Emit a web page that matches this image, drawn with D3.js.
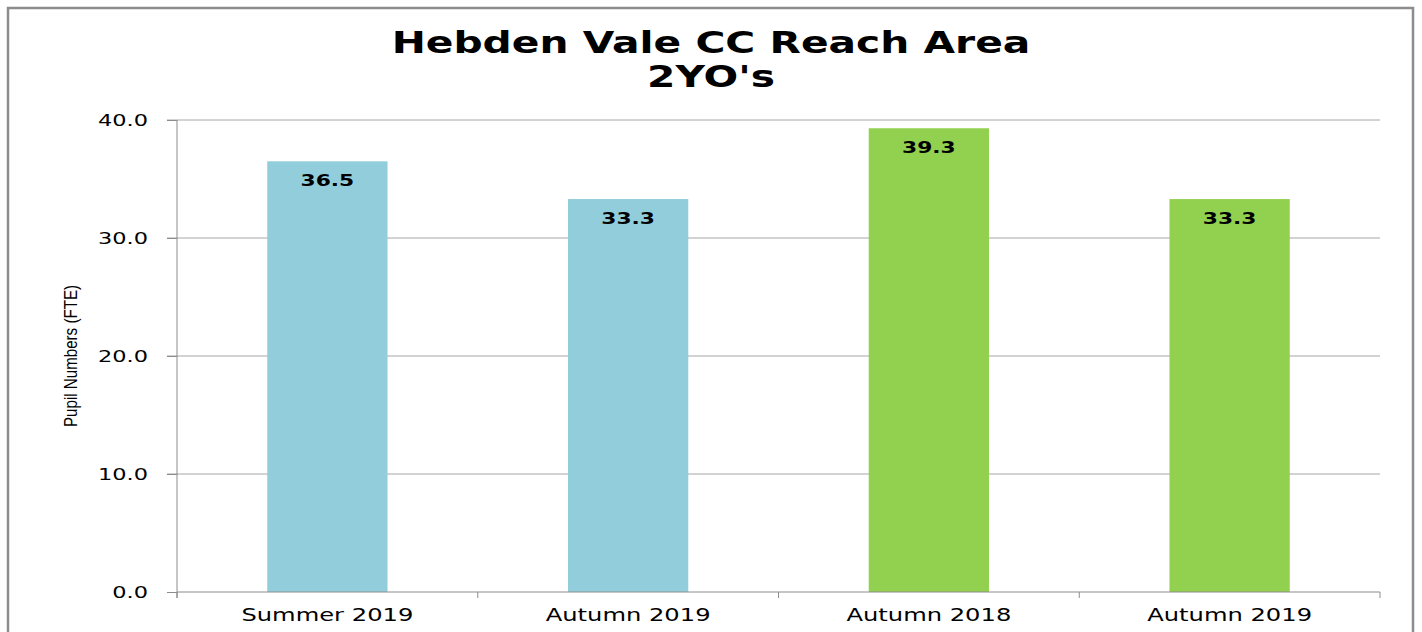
<!DOCTYPE html>
<html>
<head>
<meta charset="utf-8" />
<title>Hebden Vale CC Reach Area</title>
<style>
    body { margin: 0; background: #fff; }
    text { font-family: "DejaVu Sans", Verdana, sans-serif; fill: #000; }
</style>
</head>
<body>
<div id="container"></div>
<script src="https://cdn.jsdelivr.net/npm/d3@7/dist/d3.min.js"></script>
<script>
    const categories = ['Summer 2019', 'Autumn 2019', 'Autumn 2018', 'Autumn 2019']
    const values = [36.5, 33.3, 39.3, 33.3]
    const barColors = ['#92CDDC', '#92CDDC', '#92D050', '#92D050']
    const yTicks = [0, 10, 20, 30, 40]
    const titleLines = ['Hebden Vale CC Reach Area', "2YO's"]
    const yTitle = 'Pupil Numbers (FTE)'

    const W = 1422, H = 632
    const SX = 1.36 // the picture's text is stretched sideways
    const plot = { left: 177, right: 1380, top: 120, bottom: 592 }

    const svg = d3.select('#container').append('svg').attr('width', W).attr('height', H)

    // outer frame
    svg.append('rect').attr('x', 8).attr('y', 8).attr('width', 1405).attr('height', 640)
        .attr('fill', 'none').attr('stroke', '#8c8c8c').attr('stroke-width', 2.5)

    const x = d3.scaleBand().domain(d3.range(categories.length)).range([plot.left, plot.right])
        .paddingInner(0.6).paddingOuter(0.3)
    const y = d3.scaleLinear().domain([0, 40]).range([plot.bottom, plot.top])

    // stretch a text node sideways around its anchor point
    function stretch(sel) {
        sel.each(function () {
            const t = d3.select(this)
            const cx = +t.attr('x')
            t.attr('transform', `translate(${cx},0) scale(${SX},1) translate(${-cx},0)`)
        })
    }

    // gridlines
    svg.append('g').selectAll('line').data(yTicks.filter(d => d > 0)).join('line')
        .attr('x1', plot.left - 10).attr('x2', plot.right)
        .attr('y1', d => y(d)).attr('y2', d => y(d))
        .attr('stroke', '#a6a6a6').attr('stroke-width', 1)

    // bars
    svg.append('g').selectAll('rect').data(values).join('rect')
        .attr('x', (d, i) => x(i)).attr('width', x.bandwidth())
        .attr('y', d => y(d)).attr('height', d => y(0) - y(d))
        .attr('fill', (d, i) => barColors[i])

    // data labels
    svg.append('g').selectAll('text').data(values).join('text')
        .attr('x', (d, i) => x(i) + x.bandwidth() / 2).attr('y', d => y(d) + 25)
        .attr('text-anchor', 'middle').attr('font-size', 16).attr('font-weight', 'bold')
        .text(d => d.toFixed(1))
        .call(stretch)

    // y axis
    const axisY = d3.axisLeft(y).tickValues(yTicks).tickFormat(d3.format('.1f')).tickSize(10).tickPadding(20)
    const gy = svg.append('g').attr('transform', `translate(${plot.left},0)`).call(axisY)
    gy.select('.domain').attr('d', `M0,${plot.top}V${plot.bottom + 6}`).attr('stroke', '#8c8c8c')
    gy.selectAll('.tick line').attr('stroke', '#8c8c8c')
    gy.selectAll('.tick text').attr('font-size', 16.5).attr('font-family', '"DejaVu Sans", sans-serif')
        .attr('fill', '#222').attr('x', -29)
        .each(function () { d3.select(this).attr('transform', `translate(-29,0) scale(${SX},1) translate(29,0)`) })

    // x axis
    const gx = svg.append('g').attr('transform', `translate(0,${plot.bottom})`)
    gx.append('line').attr('x1', plot.left).attr('x2', plot.right).attr('stroke', '#8c8c8c')
    const bounds = d3.range(categories.length + 1).map(i => plot.left + i * x.step())
    gx.selectAll('line.tk').data(bounds).join('line').attr('class', 'tk')
        .attr('x1', d => d).attr('x2', d => d).attr('y1', 0).attr('y2', 6).attr('stroke', '#8c8c8c')
    gx.selectAll('text').data(categories).join('text')
        .attr('x', (d, i) => x(i) + x.bandwidth() / 2).attr('y', 29)
        .attr('text-anchor', 'middle').attr('font-size', 17.8).attr('fill', '#222')
        .text(d => d)
        .call(stretch)

    // y title
    svg.append('text')
        .attr('transform', `translate(77,356) scale(${SX},1) rotate(-90)`)
        .attr('text-anchor', 'middle').attr('font-size', 14)
        .style('font-family', '"Liberation Sans Narrow", "Liberation Sans", sans-serif')
        .attr('textLength', 142).attr('lengthAdjust', 'spacingAndGlyphs')
        .text(yTitle)

    // title
    svg.append('g').selectAll('text').data(titleLines).join('text')
        .attr('x', 711).attr('y', (d, i) => 53 + i * 34)
        .attr('text-anchor', 'middle').attr('font-size', 30).attr('font-weight', 'bold')
        .text(d => d)
        .call(stretch)
</script>
</body>
</html>
